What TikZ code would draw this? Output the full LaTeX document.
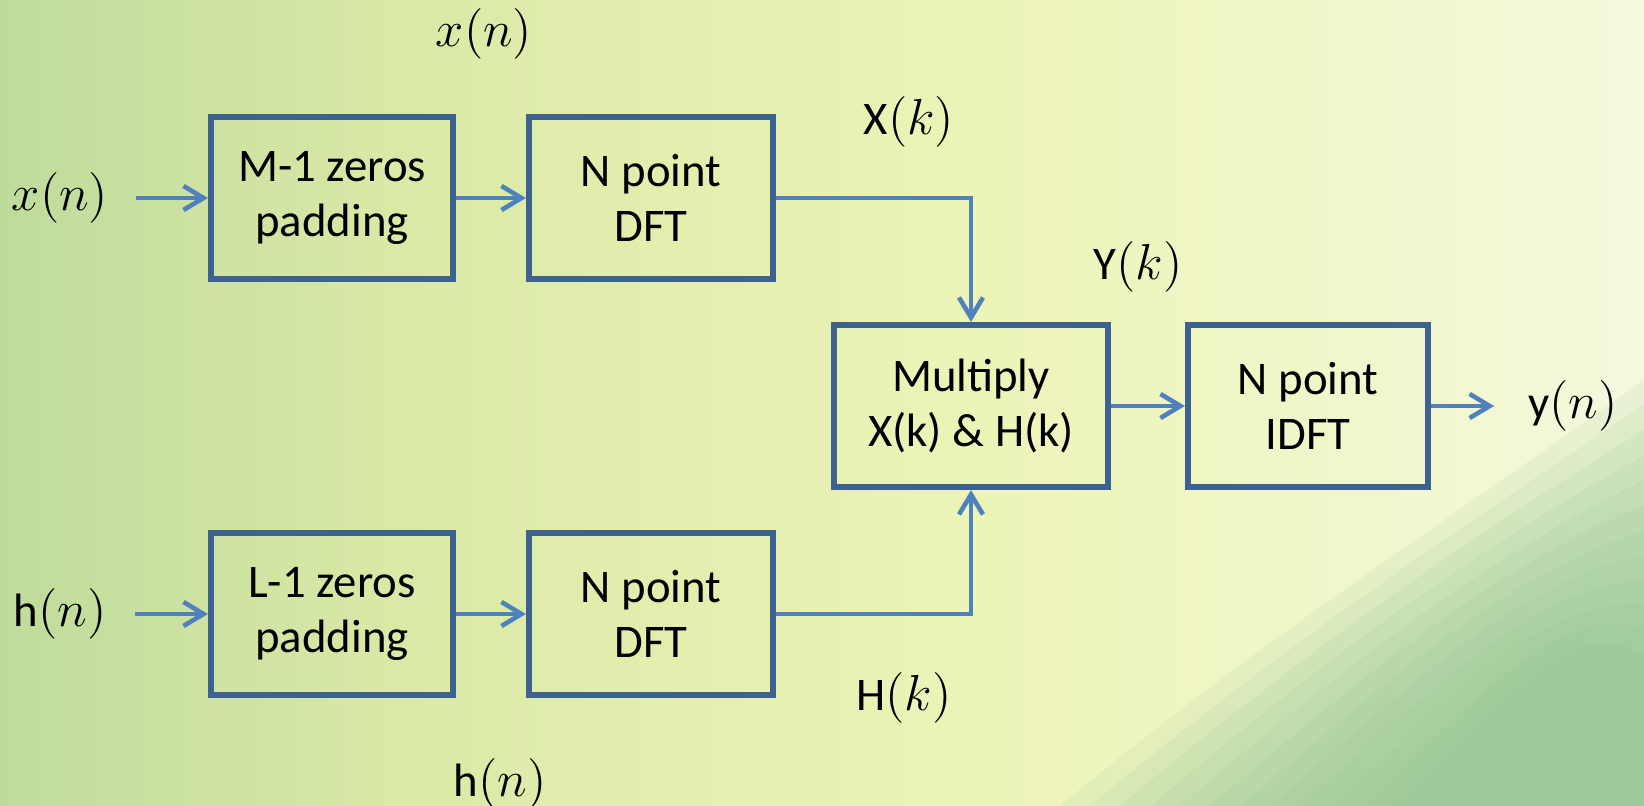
\documentclass[tikz,border=0pt]{standalone}
\usepackage{fontspec}
\setmainfont{Carlito}
\usetikzlibrary{arrows.meta, positioning}
\definecolor{bframe}{HTML}{3E6290}
\definecolor{barrow}{HTML}{4F81BD}
\definecolor{bgleft}{HTML}{BFDB9C}
\definecolor{bgmidA}{HTML}{DAE9A6}
\definecolor{bgmidB}{HTML}{EDF4B8}
\definecolor{bgright}{HTML}{F5F8DC}
\definecolor{bggreen}{HTML}{8EC290}
\pgfdeclarehorizontalshading{bgshade}{100bp}{color(0bp)=(bgleft); color(25bp)=(bgleft);
  color(37bp)=(bgmidA); color(55bp)=(bgmidB); color(75bp)=(bgright); color(100bp)=(bgright)}
\tikzset{
  blk/.style={draw=bframe, line width=1.7pt, minimum width=2.42cm, minimum height=1.62cm,
              align=center, font=\fontsize{13.3}{15.6}\selectfont, inner sep=2pt},
  sig/.style={font=\fontsize{13.3}{15.6}\selectfont, inner sep=1pt},
  arr/.style={-{Straight Barb[length=2mm, width=2.4mm]}, barrow, line width=1.3pt},
}
\begin{document}
\begin{tikzpicture}[x=0.01cm, y=-0.01cm]

  % Background
  \shade[shading=bgshade] (0,0) rectangle (1644,806);
  \foreach \k in {0,...,11} {
    \fill[bggreen, opacity=0.12] ({1060+30*\k},806) .. controls ({1260+22*\k},{640+6*\k}) and ({1420+14*\k},{540+6*\k}) .. (1644,{380+25*\k}) -- (1644,806) -- cycle;
  }
  \useasboundingbox (0,0) rectangle (1644,806);

  % Blocks
  \node[blk] (zpadx) at (332,198) {M-1 zeros\\padding};
  \node[blk, minimum width=2.44cm] (dftx) at (651,198) {N point\\DFT};
  \node[blk] (zpadh) at (332,614) {L-1 zeros\\padding};
  \node[blk, minimum width=2.44cm] (dfth) at (651,614) {N point\\DFT};
  \node[blk, minimum width=2.74cm] (mult) at (971,406) {Multiply\\X(k) \& H(k)};
  \node[blk, minimum width=2.40cm] (idft) at (1308,406) {N point\\IDFT};

  % Signals
  \node[sig] (xin) at (60,198) {$x(n)$};
  \node[sig] (hin) at (60,614) {h$(n)$};
  \node[sig] (yout) at (1573,406) {y$(n)$};
  \node[sig] (xtop) at (484,34) {$x(n)$};
  \node[sig] (hbot) at (500,784) {h$(n)$};
  \node[sig] (xk) at (909,122) {X$(k)$};
  \node[sig] (hk) at (904,698) {H$(k)$};
  \node[sig] (yk) at (1138,267) {Y$(k)$};

  % Connectors
  \draw[arr, shorten <=0.24cm] (xin) -- (zpadx);
  \draw[arr, shorten <=0.24cm] (hin) -- (zpadh);
  \draw[arr] (zpadx) -- (dftx);
  \draw[arr] (zpadh) -- (dfth);
  \draw[arr] (dftx.east) -| (mult.north);
  \draw[arr] (dfth.east) -| (mult.south);
  \draw[arr] (mult) -- (idft);
  \draw[arr, shorten >=0.3cm] (idft) -- (yout);

\end{tikzpicture}
\end{document}
